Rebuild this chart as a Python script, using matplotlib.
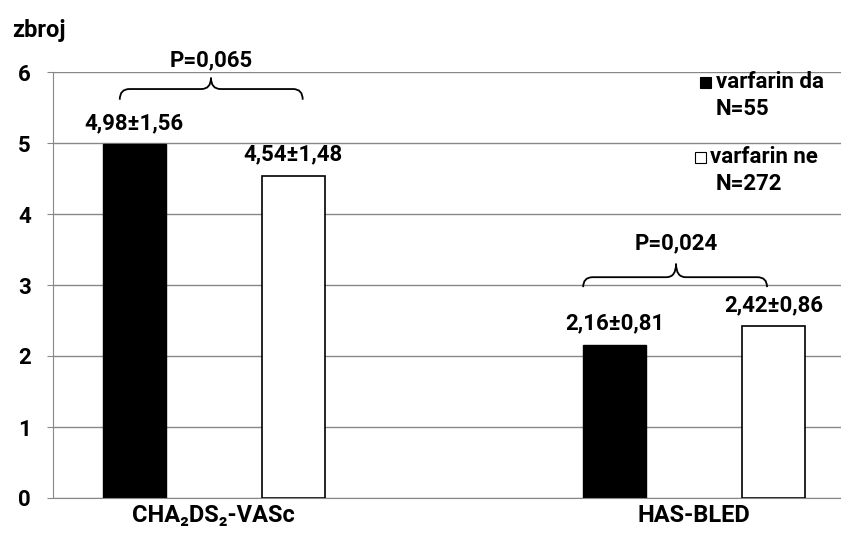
import numpy as np
import matplotlib.pyplot as plt
from matplotlib.path import Path
from matplotlib.patches import PathPatch, Rectangle

# data
categories = ["CHA\u2082DS\u2082-VASc", "HAS-BLED"]
da_values = [4.98, 2.16]
ne_values = [4.54, 2.42]
da_labels = ["4,98\u00b11,56", "2,16\u00b10,81"]
ne_labels = ["4,54\u00b11,48", "2,42\u00b10,86"]
p_labels = ["P=0,065", "P=0,024"]

plt.rcParams['font.family'] = ['Roboto', 'DejaVu Sans']
plt.rcParams['font.weight'] = 'bold'
FS = 16

fig = plt.figure(figsize=(8.41, 5.48), dpi=100)
ax = fig.add_axes([53/841, 50/548, 788/841, 426/548])

x = np.arange(len(categories))
off = 0.1656
w = 0.131
ax.bar(x - off, da_values, w, color='black', edgecolor='black', linewidth=1, zorder=3)
ax.bar(x + off, ne_values, w, color='white', edgecolor='black', linewidth=1.2, zorder=3)

for i in range(len(categories)):
    ax.annotate(da_labels[i], (x[i] - off, da_values[i]), xytext=(0, 15), textcoords='offset points',
                ha='center', va='center', fontsize=FS, fontweight='bold')
    ax.annotate(ne_labels[i], (x[i] + off, ne_values[i]), xytext=(0, 15), textcoords='offset points',
                ha='center', va='center', fontsize=FS, fontweight='bold')

# curly brackets over the groups
def brace(ax, x0, x1, xt, ye, yh, yt):
    r = 0.02
    codes = [Path.MOVETO, Path.CURVE3, Path.CURVE3,
             Path.LINETO, Path.CURVE3, Path.CURVE3,
             Path.MOVETO, Path.CURVE3, Path.CURVE3,
             Path.LINETO, Path.CURVE3, Path.CURVE3]
    verts = [(x0, ye), (x0, yh), (x0 + r, yh),
             (xt - r, yh), (xt, yh), (xt, yt),
             (xt, yt), (xt, yh), (xt + r, yh),
             (x1 - r, yh), (x1, yh), (x1, ye)]
    ax.add_patch(PathPatch(Path(verts, codes), fill=False, lw=1.3, color='black', zorder=4, clip_on=False))

brace(ax, -0.196, 0.185, -0.006, 5.61, 5.76, 5.92)
ax.text(-0.006, 6.17, p_labels[0], ha='center', va='center', fontsize=FS, fontweight='bold')
brace(ax, 0.769, 1.152, 0.9625, 2.97, 3.11, 3.30)
ax.text(0.9625, 3.59, p_labels[1], ha='center', va='center', fontsize=FS, fontweight='bold')

ax.set_xlim(-0.335, 1.306)
ax.set_ylim(0, 6)
ax.set_yticks(range(7))
ax.set_xticks(x)
ax.set_xticklabels(categories, fontsize=FS + 1, fontweight='bold')
ax.tick_params(axis='x', length=0, pad=4)
ax.tick_params(axis='y', length=4, color='#888888', labelsize=FS, pad=12)
for lab in ax.get_yticklabels():
    lab.set_fontweight('bold')
ax.grid(axis='y', color='#888888', lw=1, zorder=0)
for s in ['top', 'right']:
    ax.spines[s].set_visible(False)
ax.spines['left'].set_color('#888888')
ax.spines['bottom'].set_color('#888888')
ax.spines['bottom'].set_zorder(5)

# legend drawn by hand
fig.patches.append(Rectangle((700/841, 1 - 88/548), 11/841, 11/548, transform=fig.transFigure,
                             facecolor='black', edgecolor='black', lw=0.8))
fig.text(716/841, 1 - 82/548, "varfarin da", fontsize=FS, fontweight='bold', va='center')
fig.text(716/841, 1 - 109/548, "N=55", fontsize=FS, fontweight='bold', va='center')
fig.patches.append(Rectangle((695/841, 1 - 163/548), 11/841, 11/548, transform=fig.transFigure,
                             facecolor='white', edgecolor='black', lw=0.8))
fig.text(710/841, 1 - 157/548, "varfarin ne", fontsize=FS, fontweight='bold', va='center')
fig.text(716/841, 1 - 184/548, "N=272", fontsize=FS, fontweight='bold', va='center')

fig.text(12/841, 1 - 30/548, "zbroj", fontsize=FS + 1, fontweight='bold', va='center')

plt.savefig("out.png", dpi=100)
